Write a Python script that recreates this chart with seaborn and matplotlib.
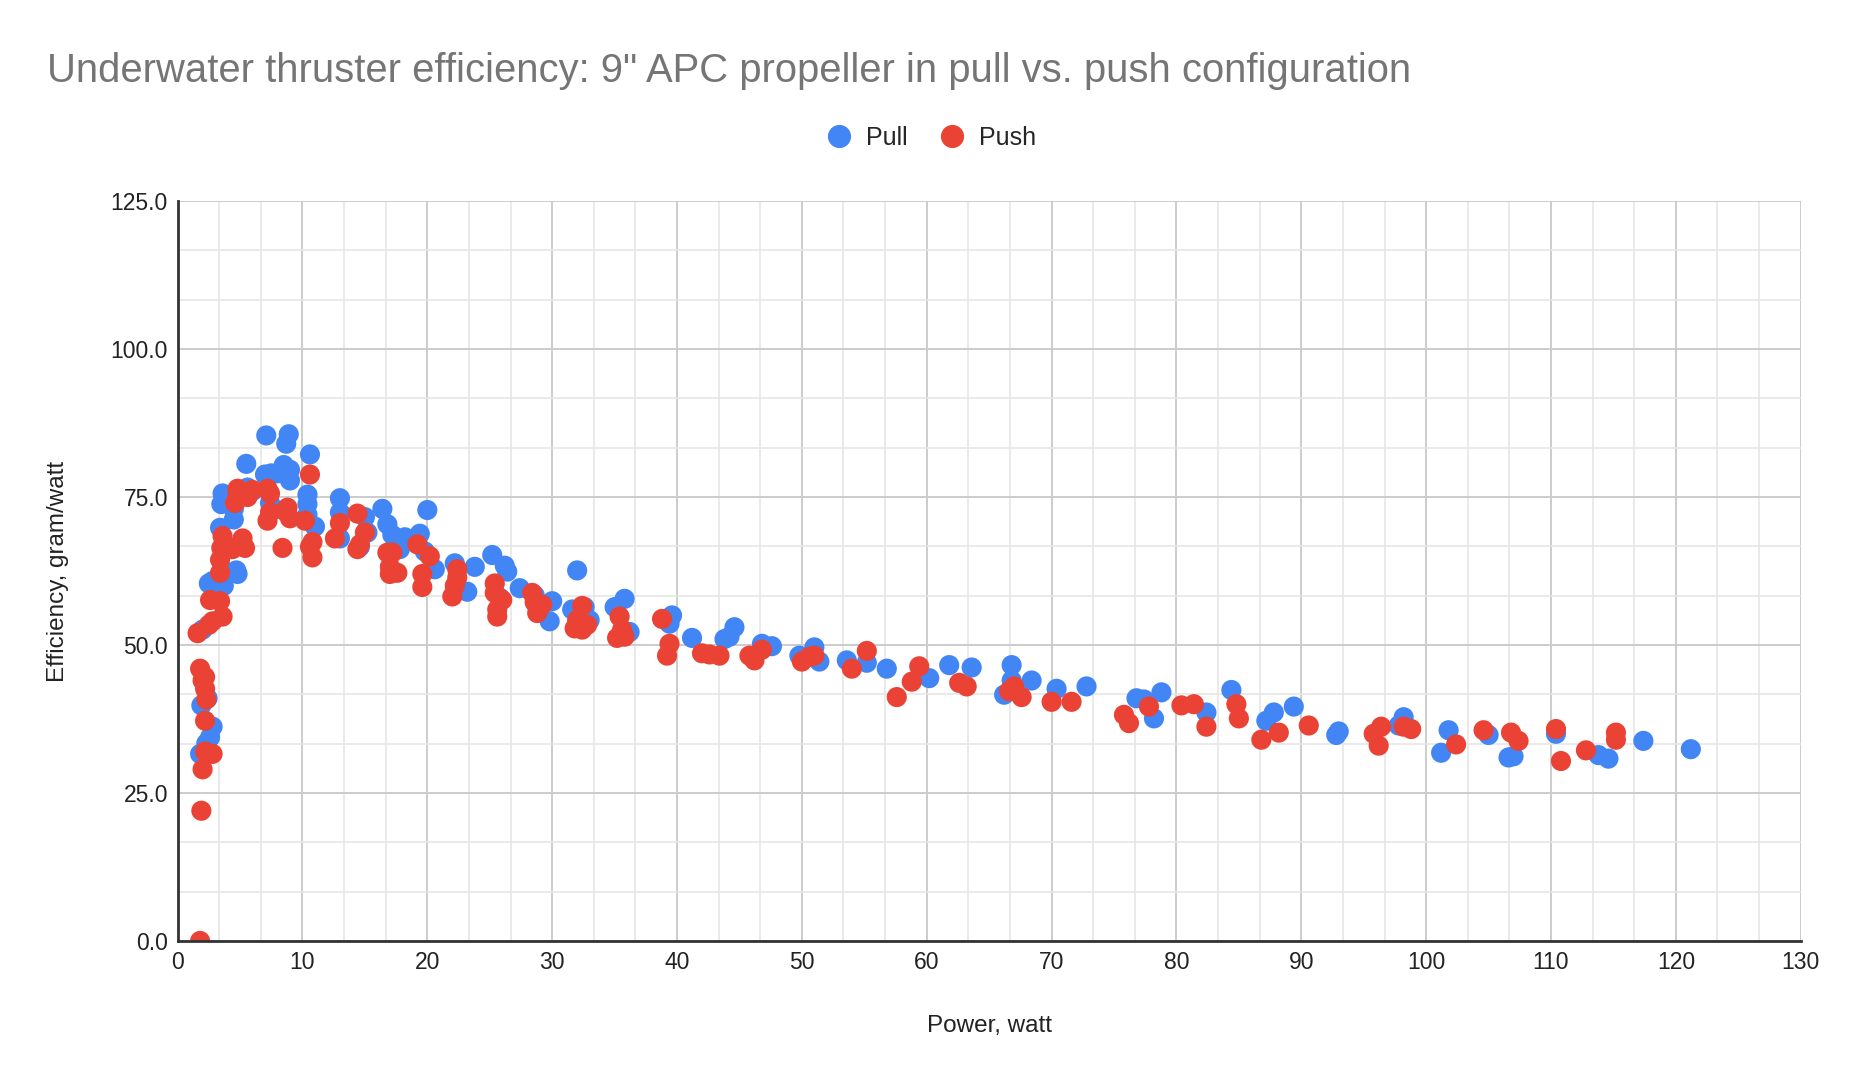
import numpy as np
import pandas as pd
import matplotlib
matplotlib.use("Agg")
from matplotlib import pyplot as plt
from matplotlib.ticker import MultipleLocator, FormatStrFormatter
import seaborn as sns

# Pull configuration: power (W) and efficiency (g/W)
pull_power = [1.8, 1.9, 2.0, 2.3, 2.6, 2.8, 2.4, 2.5, 2.8, 3.1, 3.4, 3.5, 3.6, 3.7,
              4.5, 4.5, 4.6, 4.7, 4.8, 5.0, 5.5, 5.6, 6.0, 7.0, 7.1, 7.4, 7.5, 8.0,
              8.5, 8.7, 8.9, 9.0, 9.0, 10.4, 10.4, 10.4, 10.6, 11.0, 13.0, 13.0,
              13.0, 14.6, 15.0, 15.2, 16.4, 16.8, 17.2, 17.8, 18.2, 19.4, 20.0,
              19.8, 20.6, 22.2, 23.2, 23.8, 25.2, 26.2, 26.4, 25.8, 27.4, 28.6,
              30.0, 29.8, 32.0, 31.6, 32.6, 33.0, 35.0, 35.8, 36.2, 39.6, 39.4,
              41.2, 43.8, 44.6, 44.2, 46.8, 47.6, 49.8, 51.0, 51.4, 53.6, 55.2,
              56.8, 60.2, 61.8, 63.6, 66.2, 66.8, 66.8, 68.4, 70.4, 72.8, 76.8,
              77.4, 78.2, 78.8, 82.4, 84.4, 87.2, 87.8, 89.4, 92.8, 93.0, 98.2,
              97.8, 101.2, 101.8, 105.0, 106.6, 107.0, 110.4, 113.8, 114.6, 117.4,
              121.2]
pull_eff = [31.6, 39.8, 52.6, 33.4, 34.4, 36.2, 41.0, 60.4, 60.8, 58.0, 69.8, 73.8,
            75.6, 60.0, 71.2, 73.0, 74.2, 62.6, 62.0, 67.0, 80.6, 76.6, 76.0, 78.8,
            85.4, 74.0, 79.0, 79.0, 80.4, 84.0, 85.6, 77.8, 79.6, 75.4, 73.8, 72.0,
            82.2, 70.0, 74.8, 72.4, 68.0, 66.6, 71.6, 69.0, 73.0, 70.4, 68.6, 66.2,
            68.2, 68.8, 72.8, 65.8, 62.8, 63.8, 59.0, 63.2, 65.2, 63.4, 62.4, 58.0,
            59.6, 58.4, 57.4, 54.0, 62.6, 56.0, 56.4, 54.2, 56.4, 57.8, 52.2, 55.0,
            53.6, 51.2, 51.0, 53.0, 51.4, 50.2, 49.8, 48.2, 49.6, 47.2, 47.4, 47.0,
            46.0, 44.4, 46.6, 46.2, 41.6, 46.6, 44.0, 44.0, 42.6, 43.0, 41.0, 40.8,
            37.6, 42.0, 38.6, 42.4, 37.2, 38.6, 39.6, 34.8, 35.4, 37.8, 36.4, 31.8,
            35.6, 34.8, 31.0, 31.2, 35.0, 31.4, 30.8, 33.8, 32.4]

# Push configuration
push_power = [1.6, 1.8, 2.0, 2.2, 2.2, 2.3, 1.9, 2.0, 2.2, 2.2, 2.8, 1.8, 2.5, 2.6,
              2.8, 3.4, 3.6, 3.4, 3.4, 3.5, 3.6, 4.4, 4.6, 4.8, 4.8, 5.2, 5.4, 5.6,
              6.0, 7.2, 7.4, 7.2, 7.4, 8.4, 8.6, 8.8, 9.0, 10.2, 10.6, 10.8, 10.8,
              10.6, 12.6, 13.0, 14.4, 14.4, 14.6, 15.0, 16.8, 17.0, 17.0, 17.6,
              17.2, 19.2, 19.6, 19.6, 20.2, 22.0, 22.2, 22.4, 22.4, 25.4, 25.4,
              25.6, 25.6, 26.0, 28.4, 28.6, 28.8, 29.2, 31.8, 32.0, 32.4, 32.4,
              32.8, 35.2, 35.4, 35.8, 35.6, 38.8, 39.2, 39.4, 42.0, 42.6, 43.4,
              45.8, 46.2, 46.8, 50.0, 50.6, 51.0, 54.0, 55.2, 57.6, 58.8, 59.4,
              62.6, 63.2, 67.0, 66.6, 67.6, 70.0, 71.6, 75.8, 76.2, 77.8, 80.4,
              81.4, 82.4, 84.8, 85.0, 86.8, 88.2, 90.6, 95.8, 96.2, 96.4, 98.2,
              98.8, 102.4, 104.6, 106.8, 107.4, 110.4, 110.8, 112.8, 115.2, 115.2]
push_eff = [52.0, 46.0, 44.0, 44.6, 42.6, 40.8, 22.0, 29.0, 37.2, 32.0, 31.6, 0.0,
            53.4, 57.6, 54.0, 57.4, 54.8, 62.2, 64.4, 66.4, 68.4, 66.2, 74.0, 75.8,
            76.4, 68.0, 66.4, 75.0, 76.2, 71.0, 72.4, 76.4, 75.6, 66.4, 72.6, 73.2,
            71.4, 71.0, 78.8, 67.4, 64.8, 66.6, 68.0, 70.6, 72.2, 66.2, 67.0, 69.0,
            65.6, 63.2, 62.0, 62.2, 65.6, 67.0, 62.0, 59.8, 65.0, 58.2, 60.0, 62.8,
            61.4, 60.4, 58.8, 56.0, 54.8, 57.6, 58.8, 57.2, 55.4, 56.8, 52.8, 54.2,
            52.6, 56.6, 53.4, 51.2, 54.8, 51.4, 52.6, 54.4, 48.2, 50.2, 48.6, 48.4,
            48.2, 48.2, 47.4, 49.2, 47.2, 48.0, 48.2, 46.0, 49.0, 41.2, 43.8, 46.4,
            43.6, 43.0, 43.0, 42.2, 41.2, 40.4, 40.4, 38.2, 36.8, 39.6, 39.8, 40.0,
            36.2, 40.0, 37.6, 34.0, 35.2, 36.4, 35.0, 33.0, 36.2, 36.2, 35.8, 33.2,
            35.6, 35.2, 33.8, 35.8, 30.4, 32.2, 35.2, 34.0]

series_names = ["Pull", "Push"]
colors = ["#4285F4", "#EA4335"]

df = pd.concat([
    pd.DataFrame({"power": pull_power, "eff": pull_eff, "config": series_names[0]}),
    pd.DataFrame({"power": push_power, "eff": push_eff, "config": series_names[1]}),
], ignore_index=True)

sns.set_style("white")
plt.rcParams["font.family"] = ["Liberation Sans", "DejaVu Sans"]

fig = plt.figure(figsize=(18.56, 10.70), dpi=100)
ax = fig.add_axes([0.0957, 0.1206, 0.8745, 0.6915])

sns.scatterplot(data=df, x="power", y="eff", hue="config", hue_order=series_names,
                palette=colors, s=210, linewidth=0, alpha=1.0, ax=ax, zorder=3)

ax.set_xlim(0, 130)
ax.set_ylim(0, 125)
ax.xaxis.set_major_locator(MultipleLocator(10))
ax.xaxis.set_minor_locator(MultipleLocator(10 / 3))
ax.yaxis.set_major_locator(MultipleLocator(25))
ax.yaxis.set_minor_locator(MultipleLocator(25 / 3))
ax.yaxis.set_major_formatter(FormatStrFormatter("%.1f"))
ax.grid(which="major", color="#cccccc", linewidth=1.4, zorder=0)
ax.grid(which="minor", color="#e6e6e6", linewidth=1.2, zorder=0)
ax.set_axisbelow(True)
ax.tick_params(which="both", length=0, labelsize=16.5, colors="#222222", pad=7)

for side in ["top", "right"]:
    ax.spines[side].set_visible(False)
for side in ["left", "bottom"]:
    ax.spines[side].set_color("#333333")
    ax.spines[side].set_linewidth(2)
    ax.spines[side].set_zorder(4)

ax.set_xlabel("Power, watt", fontsize=17.5, labelpad=30, color="#222222")
ax.set_ylabel("Efficiency, gram/watt", fontsize=17.5, labelpad=30, color="#222222")

fig.text(47 / 1856, 1 - 71 / 1070, "Underwater thruster efficiency: 9\" APC propeller in pull vs. push configuration",
         fontsize=28.8, color="#757575", ha="left", va="center")

handles, labels = ax.get_legend_handles_labels()
ax.get_legend().remove()
fig.legend(handles, labels, loc="center", bbox_to_anchor=(0.4985, 1 - 138 / 1070), ncol=2,
           frameon=False, fontsize=18, markerscale=1.15, handletextpad=0.1,
           columnspacing=0.75)

fig.savefig("out.png", dpi=100)
